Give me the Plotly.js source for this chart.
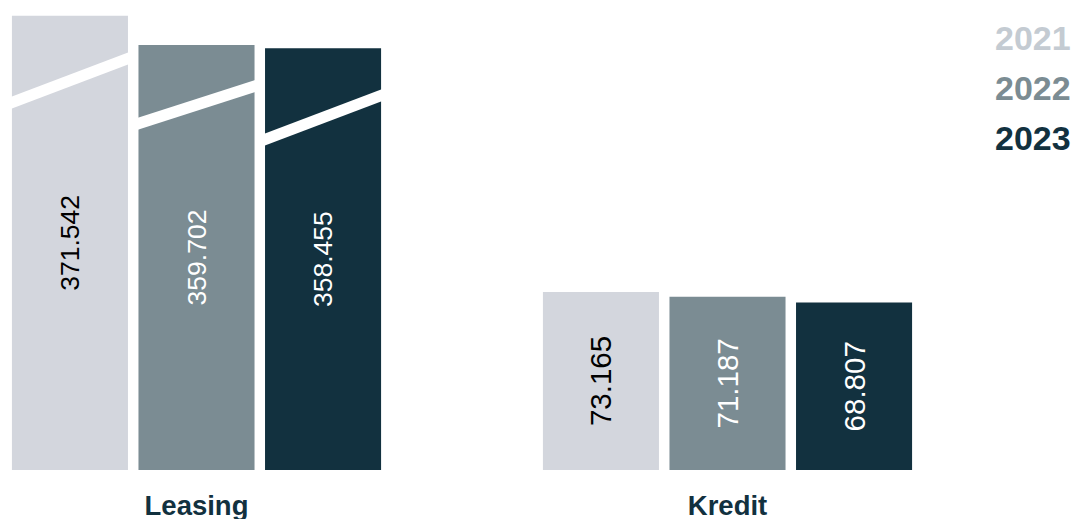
<!DOCTYPE html>
<html>
<head>
<meta charset="utf-8">
<script src="https://cdn.plot.ly/plotly-3.0.1.min.js"></script>
<style>
html,body{margin:0;padding:0;background:#fff;}
#chart{width:1075px;height:519px;}
</style>
</head>
<body>
<div id="chart"></div>
<script>
// ---- data ----
var categories = ['Leasing', 'Kredit'];
var years = ['2021', '2022', '2023'];
var leasingValues = [371.542, 359.702, 358.455];
var kreditValues = [73.165, 71.187, 68.807];

// ---- styles ----
var barColors = ['#d3d6dd', '#7b8c93', '#12313f'];
var labelColors = ['#000000', '#ffffff', '#ffffff'];
var legendColors = ['#c4cbd2', '#7b8c93', '#12313f'];
var FONT = '"Liberation Sans", Arial, sans-serif';

var W = 1075, H = 519, M = {l: 0, r: 0, t: 10, b: 49};
var plotH = H - M.t - M.b;
// broken (upper) scale for Leasing
var brokenStart = 187.73, brokenEnd = 373.89;

function fmt(v) { return v.toFixed(3); }

var traces = [];
years.forEach(function (yr, i) {
  traces.push({
    type: 'bar', name: yr, x: [categories[0]],
    y: [leasingValues[i] - brokenStart], base: brokenStart,
    yaxis: 'y2', marker: {color: barColors[i], line: {width: 0}},
    text: [fmt(leasingValues[i])], textposition: 'inside', insidetextanchor: 'middle',
    textangle: -90, textfont: {family: FONT, size: 26.5, color: labelColors[i]},
    hoverinfo: 'skip', showlegend: false
  });
});
years.forEach(function (yr, i) {
  traces.push({
    type: 'bar', name: yr, x: [categories[1]], y: [kreditValues[i]],
    yaxis: 'y', marker: {color: barColors[i], line: {width: 0}},
    text: [fmt(kreditValues[i])], textposition: 'inside', insidetextanchor: 'middle',
    textangle: -90, textfont: {family: FONT, size: 29.5, color: labelColors[i]},
    hoverinfo: 'skip', showlegend: false
  });
});

// axis-break bands (decoration), pixel -> paper
function px(x) { return (x - M.l) / (W - M.l - M.r); }
function py(y) { return (H - M.b - y) / plotH; }
var breaks = [
  {x0: 8, x1: 132, l: 98, r: 51},
  {x0: 134, x1: 258, l: 119, r: 79},
  {x0: 261, x1: 385, l: 135, r: 88}
];
var T = 12;
var shapes = breaks.map(function (b) {
  return {
    type: 'path', xref: 'paper', yref: 'paper', layer: 'above',
    path: 'M ' + px(b.x0) + ' ' + py(b.l) + ' L ' + px(b.x1) + ' ' + py(b.r) +
          ' L ' + px(b.x1) + ' ' + py(b.r + T) + ' L ' + px(b.x0) + ' ' + py(b.l + T) + ' Z',
    fillcolor: '#ffffff', line: {width: 0}
  };
});

var legendY = [38, 88, 138];
var annotations = years.map(function (yr, i) {
  return {
    text: '<b>' + yr + '</b>', xref: 'paper', yref: 'paper',
    x: px(1073), y: py(legendY[i]), xanchor: 'right', yanchor: 'middle',
    showarrow: false, font: {family: FONT, size: 34, color: legendColors[i]}
  };
});

var layout = {
  width: W, height: H, margin: M,
  paper_bgcolor: '#ffffff', plot_bgcolor: '#ffffff',
  barmode: 'group', bargap: 0.285, bargroupgap: 0.083,
  showlegend: false,
  xaxis: {
    type: 'category', categoryorder: 'array', categoryarray: categories,
    range: [-196.5 / 531, (1075 - 196.5) / 531],
    showgrid: false, zeroline: false, showline: false, ticks: '',
    ticklabelstandoff: 16,
    tickfont: {family: FONT, size: 27.5, color: '#12313f', weight: 'bold'},
    fixedrange: true
  },
  yaxis: {range: [0, plotH / 2.433], visible: false, fixedrange: true},
  yaxis2: {range: [brokenStart, brokenEnd], overlaying: 'y', visible: false, fixedrange: true},
  shapes: shapes,
  annotations: annotations,
  font: {family: FONT}
};

Plotly.newPlot('chart', traces, layout, {displayModeBar: false, staticPlot: true});
</script>
</body>
</html>
